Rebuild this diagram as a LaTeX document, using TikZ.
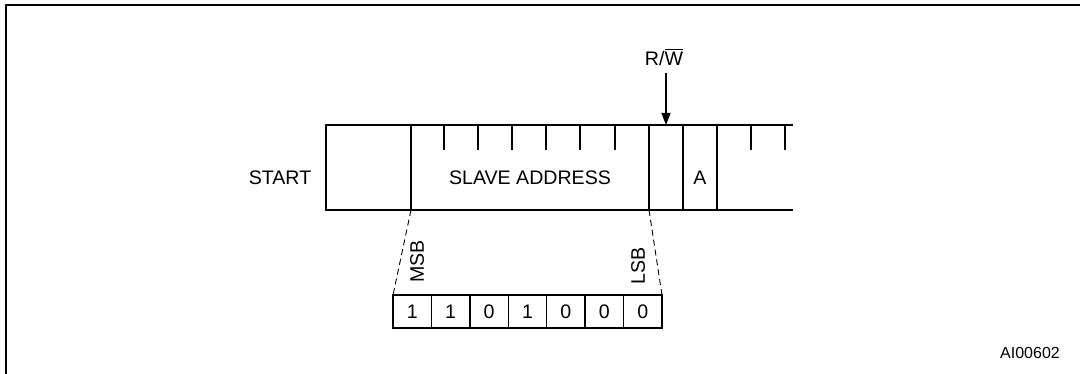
\documentclass[tikz,border=0pt]{standalone}
\usepackage{fontspec}
\setmainfont{Liberation Sans}
\usetikzlibrary{arrows.meta}
\begin{document}
\begin{tikzpicture}[x=0.5pt,y=-0.5pt,
  lbl/.style={font=\fontsize{9.8}{11}\selectfont, inner sep=0pt},
  small/.style={font=\fontsize{8}{10}\selectfont, inner sep=0pt},
  outer/.style={line width=1pt},
  fr/.style={line width=0.85pt},
  tick/.style={line width=0.75pt},
  bit/.style={draw, line width=0.7pt, minimum width=19.2pt, minimum height=16.5pt, inner sep=0pt, outer sep=0pt, font=\fontsize{9.8}{11}\selectfont},
  dsh/.style={line width=0.45pt, dash pattern=on 3pt off 2pt},
  arr/.style={line width=0.6pt, -{Triangle[length=6pt,width=4.5pt]}}]
\useasboundingbox (0,0) rectangle (1080,374);
% outer frame
\draw[outer] (6,374) -- (6,5.5) -- (1080,5.5);
% main frame
\draw[fr] (793,125) -- (326,125) -- (326,210) -- (793,210);
\foreach \x in {411,649,683,717} \draw[fr] (\x,125) -- (\x,210);
\foreach \x in {444,478,512,546,580,615,751,785} \draw[tick] (\x,125) -- (\x,150);
% labels
\node[lbl] (start) at (280,178) {START};
\node[lbl] (slave) at (530,178) {SLAVE ADDRESS};
\node[lbl] (ack) at (700,178) {A};
\node[lbl, anchor=base] (rw) at (664,66) {R/$\overline{\hbox{W}}$};
\coordinate (rwtail) at (666,73);
\coordinate (rwtip) at (666,125);
\draw[arr] (rwtail) -- (rwtip);
% bits
\foreach \b [count=\i] in {1,1,0,1,0,0,0}
  \node[bit] (b\i) at ({393+38.43*(\i-0.5)},311.5) {\b};
\coordinate (msbtop) at (411,210);
\coordinate (lsbtop) at (649,210);
\draw[dsh] (msbtop) -- (b1.north west);
\draw[dsh] (lsbtop) -- (b7.north east);
\node[lbl, rotate=90, anchor=west] (msb) at (417,283) {MSB};
\node[lbl, rotate=90, anchor=west] (lsb) at (638,285) {LSB};
\node[small] (code) at (1030,353) {AI00602};
\end{tikzpicture}
\end{document}
